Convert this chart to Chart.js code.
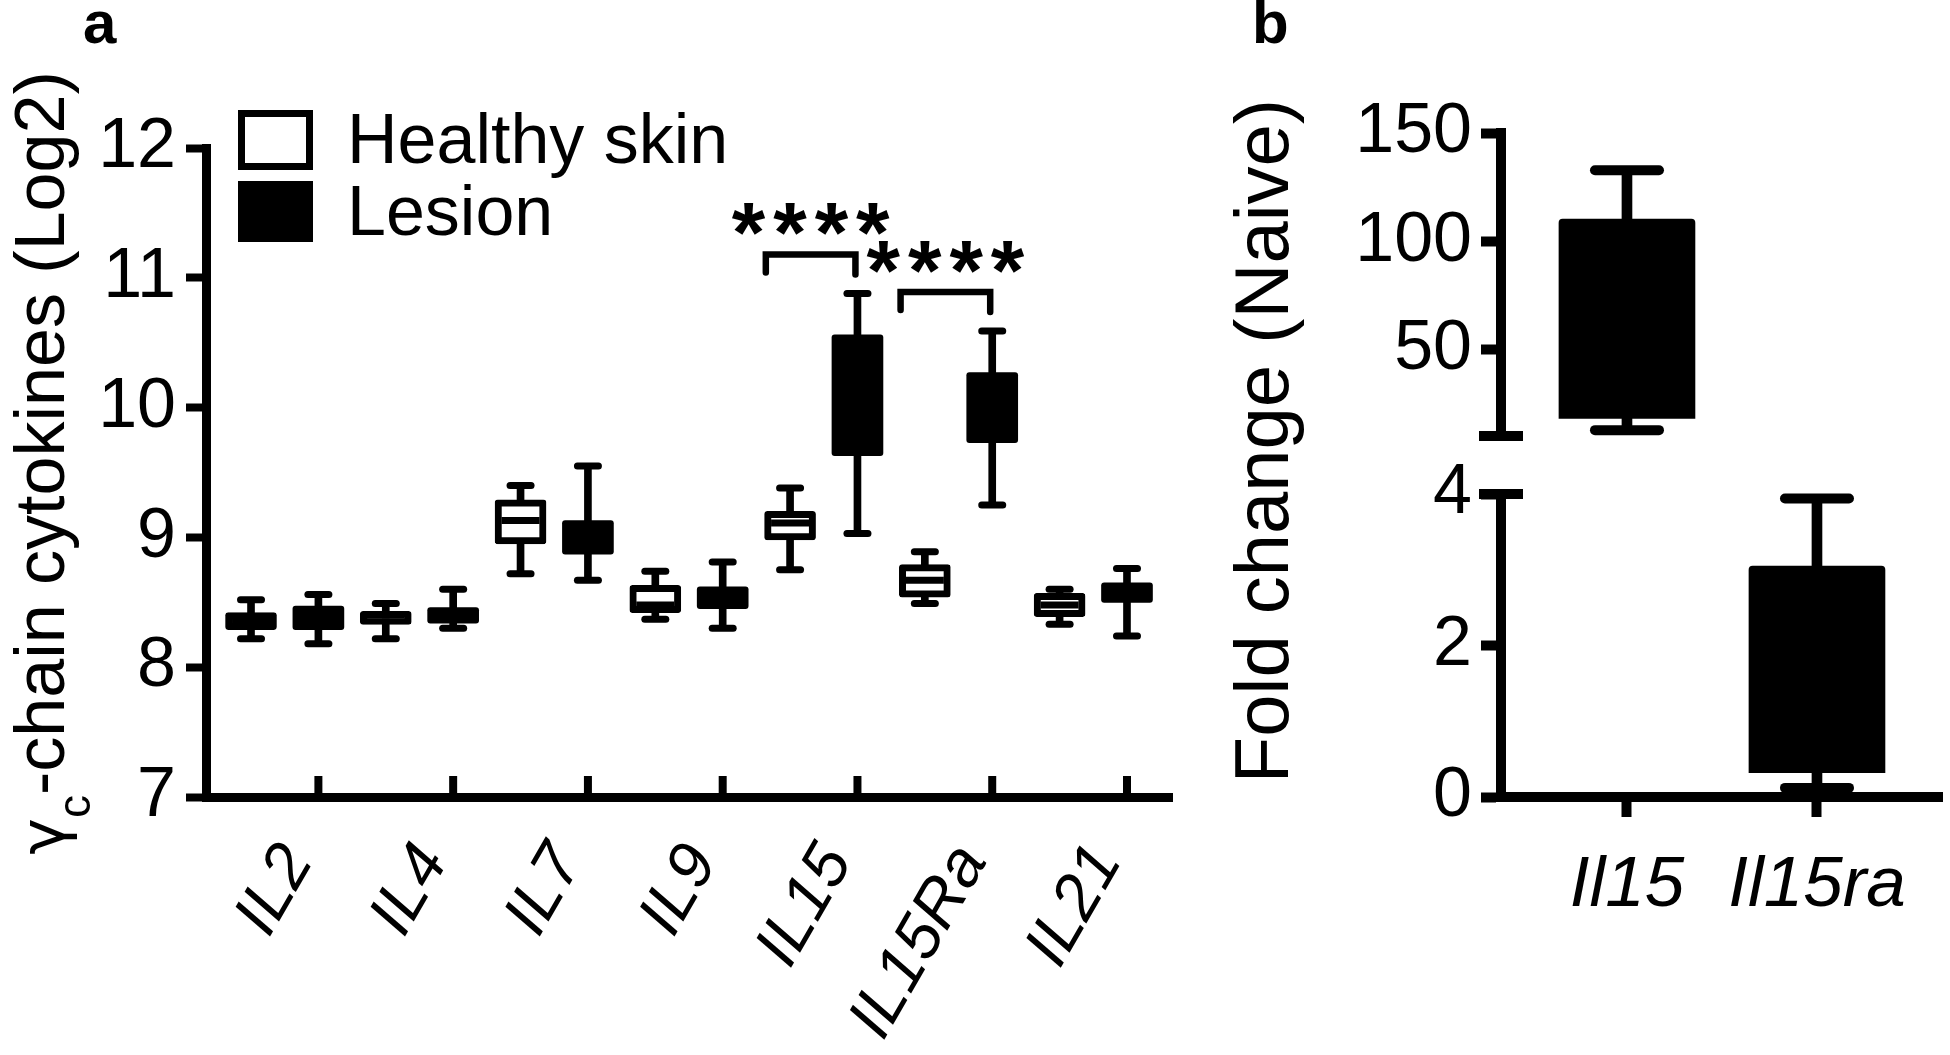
<!DOCTYPE html>
<html>
<head>
<meta charset="utf-8">
<script src="https://cdn.jsdelivr.net/npm/chart.js@4.4.1/dist/chart.umd.min.js"></script>
<style>
html, body { margin: 0; padding: 0; background: #ffffff; }
#wrap { position: relative; width: 1950px; height: 1055px; overflow: hidden; background: #ffffff; }
canvas { position: absolute; top: 0; }
</style>
</head>
<body>
<div id="wrap">
  <canvas id="chartA" width="1200" height="1055" style="left:0px;width:1200px;height:1055px;"></canvas>
  <canvas id="chartBLow" width="750" height="1055" style="left:1200px;width:750px;height:1055px;"></canvas>
  <canvas id="chartBHigh" width="750" height="500" style="left:1200px;width:750px;height:500px;"></canvas>
</div>
<script>
// ---------------- DATA ----------------
// Panel a : gamma-c chain cytokines (Log2), box plots (min, Q1, median, Q3, max)
const categories = ['IL2', 'IL4', 'IL7', 'IL9', 'IL15', 'IL15Ra', 'IL21'];
const seriesNames = ['Healthy skin', 'Lesion'];

const healthyMin    = [8.22, 8.22, 8.72, 8.37, 8.75, 8.49, 8.33];
const healthyQ1     = [8.29, 8.33, 8.95, 8.42, 8.98, 8.54, 8.39];
const healthyMedian = [8.36, 8.40, 9.13, 8.48, 9.11, 8.67, 8.48];
const healthyQ3     = [8.42, 8.43, 9.29, 8.63, 9.20, 8.79, 8.57];
const healthyMax    = [8.52, 8.49, 9.40, 8.74, 9.38, 8.89, 8.60];

const lesionMin    = [8.18, 8.30, 8.67, 8.30, 9.03, 9.25, 8.24];
const lesionQ1     = [8.29, 8.34, 8.87, 8.45, 9.63, 9.73, 8.50];
const lesionMedian = [8.38, 8.41, 9.00, 8.55, 10.10, 10.00, 8.58];
const lesionQ3     = [8.47, 8.46, 9.13, 8.62, 10.56, 10.27, 8.65];
const lesionMax    = [8.56, 8.60, 9.55, 8.81, 10.88, 10.59, 8.76];

const panelATicks = [7, 8, 9, 10, 11, 12];
const panelATitle = ['\u03B3', 'c', '-chain cytokines (Log2)'];

// significance brackets (category, label, bracket level in Log2 units)
const sigCategory = ['IL15', 'IL15Ra'];
const sigText     = ['****', '****'];
const sigLevel    = [11.18, 10.89];

// Panel b : fold change (Naive)
const genes   = ['Il15', 'Il15ra'];
const foldMin = [12.7, 0.12];
const foldQ1  = [18.1, 0.32];
const foldQ3  = [110.2, 3.05];
const foldMax = [132.8, 3.94];
const panelBUpperTicks = [50, 100, 150];
const panelBLowerTicks = [0, 2, 4];
const panelBUpperRange = [10, 150];
const panelBLowerRange = [0, 4];
const panelBTitle = 'Fold change (Naive)';

// ---------------- STYLE ----------------
const FONT = "'Liberation Sans', Arial, Helvetica, sans-serif";
Chart.defaults.font.family = FONT;
Chart.defaults.color = '#000000';

const roundCapPlugin = {
  id: 'roundCap',
  beforeDatasetDraw(chart, args) {
    if (chart.data.datasets[args.index].roundCap) chart.ctx.lineCap = 'round';
  },
  afterDatasetDraw(chart) { chart.ctx.lineCap = 'butt'; }
};
const noSidePadding = s => { s.paddingLeft = 0; s.paddingRight = 0; };

// ---------------- PANEL A ----------------
const groups = [
  { label: seriesNames[0], g: 0, fill: '#ffffff', border: 7, min: healthyMin, q1: healthyQ1, med: healthyMedian, q3: healthyQ3, max: healthyMax },
  { label: seriesNames[1], g: 1, fill: '#000000', border: 0, min: lesionMin, q1: lesionQ1, med: lesionMedian, q3: lesionQ3, max: lesionMax }
];
const posA = (i, g) => 2 * i + g;

const dsA = [];
groups.forEach(gp => {
  dsA.push({
    type: 'bar', label: gp.label + ' range',
    data: categories.map((c, i) => ({ x: posA(i, gp.g), y: [gp.min[i], gp.max[i]] })),
    backgroundColor: '#000000', borderWidth: 0, grouped: false,
    categoryPercentage: 1, barPercentage: 1, maxBarThickness: 7, order: 3
  });
  dsA.push({
    type: 'bar', label: gp.label,
    data: categories.map((c, i) => ({ x: posA(i, gp.g), y: [gp.q1[i], gp.q3[i]] })),
    backgroundColor: gp.fill, borderColor: '#000000', borderWidth: gp.border, borderSkipped: false,
    borderRadius: 3, grouped: false, categoryPercentage: 1, barPercentage: 1, maxBarThickness: 51, order: 2
  });
  dsA.push({
    type: 'scatter', label: gp.label + ' whisker caps', roundCap: true,
    data: categories.flatMap((c, i) => [{ x: posA(i, gp.g), y: gp.min[i] }, { x: posA(i, gp.g), y: gp.max[i] }]),
    pointStyle: 'line', pointRadius: 10.5, pointBorderWidth: 7, pointBorderColor: '#000000',
    pointBackgroundColor: '#000000', order: 1
  });
  dsA.push({
    type: 'scatter', label: gp.label + ' median',
    data: categories.map((c, i) => ({ x: posA(i, gp.g), y: gp.med[i] })),
    pointStyle: 'line', pointRadius: 19, pointBorderWidth: 7, pointBorderColor: '#000000',
    pointBackgroundColor: '#000000', order: 0
  });
});

const panelAPlugin = {
  id: 'panelA',
  afterDraw(chart) {
    const { ctx, chartArea: ca, scales: { x, y } } = chart;
    ctx.save();
    ctx.strokeStyle = '#000000';
    ctx.fillStyle = '#000000';
    // inward category tick marks
    ctx.lineWidth = 8;
    ctx.lineCap = 'butt';
    x.ticks.forEach(t => {
      const px = x.getPixelForValue(t.value);
      ctx.beginPath();
      ctx.moveTo(px, ca.bottom);
      ctx.lineTo(px, ca.bottom - 21);
      ctx.stroke();
    });

    // y-axis title with subscript
    ctx.save();
    ctx.translate(64, 463);
    ctx.rotate(-Math.PI / 2);
    ctx.textAlign = 'left';
    ctx.textBaseline = 'alphabetic';
    const greek = "62px 'DejaVu Sans', " + FONT, big = '70px ' + FONT, small = '46px ' + FONT;
    ctx.font = greek;
    const w1 = ctx.measureText(panelATitle[0]).width;
    ctx.font = big;
    const w3 = ctx.measureText(panelATitle[2]).width;
    ctx.font = small;
    const w2 = ctx.measureText(panelATitle[1]).width;
    let sx = -(w1 + w2 + w3) / 2;
    ctx.font = greek; ctx.fillText(panelATitle[0], sx, 0); sx += w1;
    ctx.font = small; ctx.fillText(panelATitle[1], sx, 26); sx += w2;
    ctx.font = big; ctx.fillText(panelATitle[2], sx, 0);
    ctx.restore();

    // legend
    const lx = ca.left + 32, ly = ca.top - 38;
    ctx.fillStyle = '#ffffff';
    ctx.fillRect(lx, ly, 75, 60);
    ctx.lineWidth = 7;
    ctx.strokeStyle = '#000000';
    ctx.strokeRect(lx + 3.5, ly + 3.5, 68, 53);
    ctx.fillStyle = '#000000';
    ctx.fillRect(lx, ly + 71, 75, 61);
    ctx.font = '70px ' + FONT;
    ctx.textAlign = 'left';
    ctx.textBaseline = 'alphabetic';
    ctx.fillText(seriesNames[0], lx + 109, ly + 53);
    ctx.fillText(seriesNames[1], lx + 109, ly + 125);

    // significance brackets
    sigCategory.forEach((cat, k) => {
      const i = categories.indexOf(cat);
      const xl = x.getPixelForValue(posA(i, 0) - 0.36);
      const xr = x.getPixelForValue(posA(i, 1) - 0.03);
      const yb = y.getPixelForValue(sigLevel[k]);
      ctx.lineWidth = 6.5;
      ctx.lineCap = 'round';
      ctx.lineJoin = 'miter';
      ctx.beginPath();
      ctx.moveTo(xl, yb + 18);
      ctx.lineTo(xl, yb);
      ctx.lineTo(xr, yb);
      ctx.lineTo(xr, yb + 20);
      ctx.stroke();
      ctx.font = 'bold 86px ' + FONT;
      ctx.textAlign = 'center';
      try { ctx.letterSpacing = '8px'; } catch (e) {}
      ctx.fillText(sigText[k], (xl + xr) / 2 + 4, yb + 8);
      try { ctx.letterSpacing = '0px'; } catch (e) {}
    });

    // panel letter
    ctx.font = 'bold 60px ' + FONT;
    ctx.textAlign = 'left';
    ctx.fillText('a', 83, 43);
    ctx.restore();
  }
};

new Chart(document.getElementById('chartA'), {
  type: 'bar',
  data: { datasets: dsA },
  options: {
    responsive: false, animation: false, events: [], devicePixelRatio: 1,
    layout: { autoPadding: false, padding: { top: 148, right: 28, left: 0, bottom: 0 } },
    plugins: { legend: { display: false }, tooltip: { enabled: false } },
    scales: {
      x: {
        type: 'linear', offset: false, min: -0.668, max: 2 * categories.length - 1 + 0.668,
        afterBuildTicks: s => { s.ticks = categories.map((c, i) => ({ value: posA(i, 1) })); },
        ticks: {
          autoSkip: false, minRotation: 60, maxRotation: 60, padding: 35, labelOffset: -20,
          font: { size: 65, style: 'italic' }, color: '#000000',
          callback: v => categories[(v - 1) / 2]
        },
        grid: { display: false, drawTicks: false, offset: false },
        border: { display: true, width: 9, color: '#000000' },
        afterFit: s => { s.height = 258; noSidePadding(s); }
      },
      y: {
        type: 'linear', min: 7, max: 12,
        afterBuildTicks: s => { s.ticks = panelATicks.map(v => ({ value: v })); },
        ticks: { font: { size: 70 }, color: '#000000', padding: 10 },
        grid: { drawOnChartArea: false, drawTicks: true, tickLength: 20, tickWidth: 8, tickColor: '#000000' },
        border: { display: true, width: 9, color: '#000000' },
        afterFit: s => { s.width = 206; }
      }
    }
  },
  plugins: [roundCapPlugin, panelAPlugin]
});

// ---------------- PANEL B ----------------
function datasetsB() {
  return [
    {
      type: 'bar', label: 'Fold change range',
      data: genes.map((g, i) => ({ x: i, y: [foldMin[i], foldMax[i]] })),
      backgroundColor: '#000000', borderWidth: 0, grouped: false,
      categoryPercentage: 1, barPercentage: 1, maxBarThickness: 10, order: 3, clip: 6
    },
    {
      type: 'bar', label: 'Fold change',
      data: genes.map((g, i) => ({ x: i, y: [foldQ1[i], foldQ3[i]] })),
      backgroundColor: '#000000', borderWidth: 0, borderRadius: 4, grouped: false,
      categoryPercentage: 1, barPercentage: 1, maxBarThickness: 136, order: 2, clip: 6
    },
    {
      type: 'scatter', label: 'Fold change whisker caps', roundCap: true,
      data: genes.flatMap((g, i) => [{ x: i, y: foldMin[i] }, { x: i, y: foldMax[i] }]),
      pointStyle: 'line', pointRadius: 32, pointBorderWidth: 10, pointBorderColor: '#000000',
      pointBackgroundColor: '#000000', order: 1, clip: 6
    }
  ];
}

const breakPlugin = {
  id: 'breakMark',
  afterDraw(chart, args, opts) {
    const { ctx, scales: { y } } = chart;
    const py = y.getPixelForValue(opts.value);
    const px = y.right;
    ctx.save();
    ctx.fillStyle = '#000000';
    ctx.fillRect(px - 22, py - 5, 44, 10);
    ctx.restore();
  }
};

const panelBTextPlugin = {
  id: 'panelBText',
  afterDraw(chart) {
    const ctx = chart.ctx;
    ctx.save();
    ctx.fillStyle = '#000000';
    ctx.font = '76px ' + FONT;
    ctx.translate(chart.chartArea.left - 213, 441);
    ctx.rotate(-Math.PI / 2);
    ctx.textAlign = 'center';
    ctx.textBaseline = 'alphabetic';
    ctx.fillText(panelBTitle, 0, 0);
    ctx.restore();
    ctx.save();
    ctx.fillStyle = '#000000';
    ctx.font = 'bold 60px ' + FONT;
    ctx.textAlign = 'left';
    ctx.textBaseline = 'alphabetic';
    ctx.fillText('b', 52, 43);
    ctx.restore();
  }
};

const xBTicks = s => { s.ticks = genes.map((g, i) => ({ value: i })); };
const xB = { type: 'linear', offset: false, min: -0.663, max: genes.length - 1 + 0.658, afterBuildTicks: xBTicks };
function yB(range, ticks) {
  return {
    type: 'linear', min: range[0], max: range[1],
    afterBuildTicks: s => { s.ticks = ticks.map(v => ({ value: v })); },
    ticks: { font: { size: 70 }, color: '#000000', padding: 9 },
    grid: { drawOnChartArea: false, drawTicks: true, tickLength: 20, tickWidth: 10, tickColor: '#000000' },
    border: { display: true, width: 10, color: '#000000' },
    afterFit: s => { s.width = 301; }
  };
}

new Chart(document.getElementById('chartBLow'), {
  type: 'bar',
  data: { datasets: datasetsB() },
  options: {
    responsive: false, animation: false, events: [], devicePixelRatio: 1,
    layout: { autoPadding: false, padding: { top: 494, right: 8, left: 0, bottom: 0 } },
    plugins: { legend: { display: false }, tooltip: { enabled: false }, breakMark: { value: panelBLowerRange[1] } },
    scales: {
      x: Object.assign({}, xB, {
        ticks: { autoSkip: false, maxRotation: 0, minRotation: 0, padding: 27, font: { size: 71, style: 'italic' }, color: '#000000', callback: v => genes[v] },
        grid: { drawOnChartArea: false, drawTicks: true, tickLength: 20, tickWidth: 10, tickColor: '#000000', offset: false },
        border: { display: true, width: 10, color: '#000000' },
        afterFit: s => { s.height = 258; noSidePadding(s); }
      }),
      y: yB(panelBLowerRange, panelBLowerTicks)
    }
  },
  plugins: [roundCapPlugin, breakPlugin, panelBTextPlugin]
});

new Chart(document.getElementById('chartBHigh'), {
  type: 'bar',
  data: { datasets: datasetsB() },
  options: {
    responsive: false, animation: false, events: [], devicePixelRatio: 1,
    layout: { autoPadding: false, padding: { top: 133, right: 8, left: 0, bottom: 64 } },
    plugins: { legend: { display: false }, tooltip: { enabled: false }, breakMark: { value: panelBUpperRange[0] } },
    scales: {
      x: Object.assign({}, xB, { display: false, grid: { offset: false }, afterFit: noSidePadding }),
      y: yB(panelBUpperRange, panelBUpperTicks)
    }
  },
  plugins: [roundCapPlugin, breakPlugin]
});
</script>
</body>
</html>
